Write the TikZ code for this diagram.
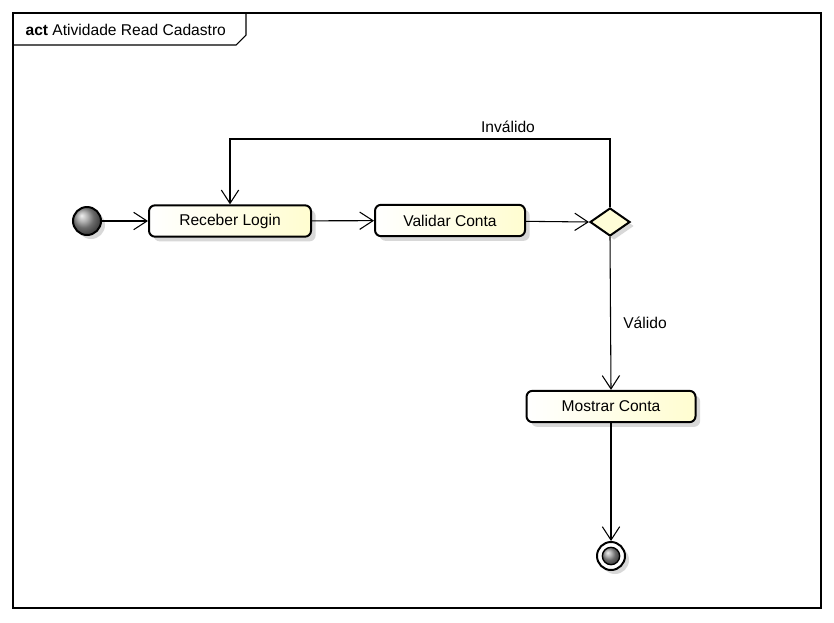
\documentclass[tikz,border=0pt]{standalone}
\usepackage{fontspec}
\setmainfont{Liberation Sans}
\usetikzlibrary{arrows.meta,shapes.geometric,shadows}

\begin{document}
\begin{tikzpicture}[x=0.75pt,y=-0.75pt]
	\tikzset{acao/.style={rectangle, rounded corners=4.5pt, line width=1.5pt, draw=black, left color=white, right color={rgb,255:red,255;green,253;blue,208}, minimum height=23.5pt, inner sep=0, font=\fontsize{11.7}{14}\selectfont, drop shadow={shadow xshift=3.5pt, shadow yshift=-3.5pt, fill=black!30, opacity=0.5}},
		seta/.style={line width=0.8pt, -{Straight Barb[length=10pt,width=13pt,line width=0.8pt]}},
		rotulo/.style={font=\fontsize{11.7}{14}\selectfont, inner sep=1pt}}

	\useasboundingbox (0,0) rectangle (834,622);

	% moldura
	\draw[line width=0.8pt] (13,13) rectangle (821,608);
	\draw[line width=0.8pt] (13,45) -- (236,45) -- (246,35) -- (246,13);
	\node[anchor=west, rotulo] (titulo) at (24,30) {\textbf{act} Atividade Read Cadastro};

	% nos
	\node[circle, line width=1.5pt, draw=black, ball color=gray!80, minimum size=21pt, inner sep=0, drop shadow={shadow xshift=3pt, shadow yshift=-3pt, fill=black!30, opacity=0.5}] at (87,221) (inicio) {};
	\node[acao, minimum width=121.5pt] at (230,221) (receber) {Receber Login};
	\node[acao, minimum width=112.5pt] at (450,220.5) (validar) {Validar Conta};
	\node[diamond, line width=1.5pt, draw=black, fill={rgb,255:red,255;green,253;blue,215}, minimum width=30pt, minimum height=21pt, inner sep=0, drop shadow={shadow xshift=3pt, shadow yshift=-3pt, fill=black!30, opacity=0.5}] at (610,222) (decisao) {};
	\node[acao, minimum width=126.75pt] at (611,406.5) (mostrar) {Mostrar Conta};
	\node[circle, line width=1.5pt, draw=black, fill=white, minimum size=21pt, inner sep=0, drop shadow={shadow xshift=3pt, shadow yshift=-3pt, fill=black!30, opacity=0.5}] at (611,556) (fim) {};
	\node[circle, line width=1pt, draw=black, ball color=gray!80, minimum size=13pt, inner sep=0] at (fim) (fimin) {};

	\coordinate (topo) at (230,139);

	% transicoes
	\draw[seta] (inicio) -- (receber);
	\draw[seta] (receber) -- (validar);
	\draw[seta] (validar) -- (decisao.west);
	\draw[seta] (decisao.north) |- (topo) -- (receber.north);
	\node[rotulo] at (508,127) (invalido) {Inválido};
	\draw[seta] (decisao.south) -- (mostrar.north);
	\node[rotulo] at (645,323) (valido) {Válido};
	\draw[seta] (mostrar.south) -- (fim.north);
\end{tikzpicture}
\end{document}
